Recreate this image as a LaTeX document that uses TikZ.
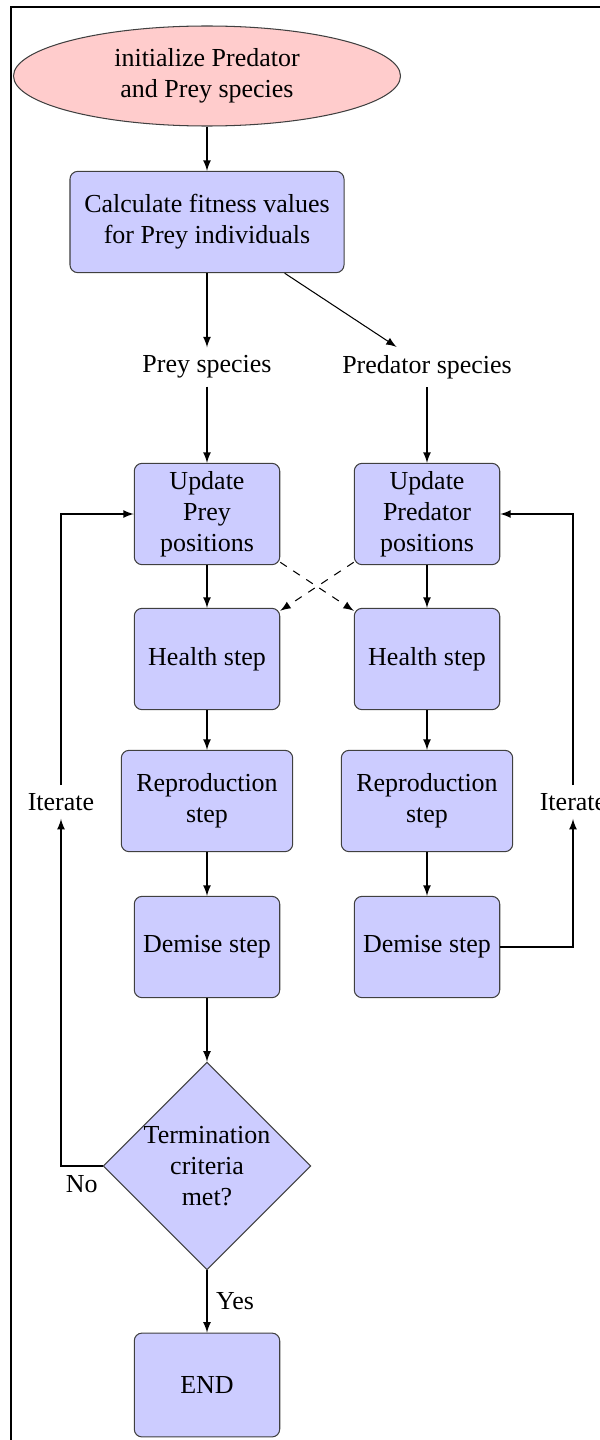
\documentclass[tikz,border=0pt]{standalone}
\usepackage{fontspec}
\setmainfont{Liberation Serif}
\usetikzlibrary{shapes.geometric}

\tikzset{
	blk/.style= {rectangle, rounded corners= 3pt, draw= black!75, fill= blue!20, minimum width= 56pt, minimum height= 39pt, align= center, inner sep= 2pt},
	wideblk/.style= {blk, minimum width= 66pt},
	startnode/.style= {ellipse, draw= black!75, fill= red!20, minimum width= 149pt, minimum height= 38.5pt, inner sep= 0pt, align= center},
	decide/.style= {diamond, aspect= 1, draw= black!75, fill= blue!20, minimum width= 80pt, minimum height= 80pt, inner sep= 0pt, align= center},
	lbl/.style= {inner sep= 3pt},
	arr/.style= {-latex, black},
}

\begin{document}
\begin{tikzpicture}[x= 0.385pt, y= -0.385pt]
\useasboundingbox (0, 0) rectangle (600, 1440);
% 枠
\draw[line width= 0.8pt] (11, 1440)-- (11, 7)-- (600, 7);
% 初期化
\node[startnode] (init) at (207, 76) {initialize Predator\\and Prey species};
\node[blk, minimum width= 105.5pt] (calc) at (207, 222) {Calculate fitness values\\for Prey individuals};
\node[lbl] (preyL) at (207, 367) {Prey species};
\node[lbl] (predL) at (427, 367) {Predator species};
% Prey 列
\node[blk] (updPrey) at (207, 514) {Update\\Prey\\positions};
\node[blk] (hPrey) at (207, 659) {Health step};
\node[wideblk] (rPrey) at (207, 801) {Reproduction\\step};
\node[blk] (dPrey) at (207, 947) {Demise step};
\node[decide] (dec) at (207, 1166) {Termination\\criteria\\met?};
\node[blk, minimum height= 40pt] (fin) at (207, 1385) {END};
% Predator 列
\node[blk] (updPred) at (427, 514) {Update\\Predator\\positions};
\node[blk] (hPred) at (427, 659) {Health step};
\node[wideblk] (rPred) at (427, 801) {Reproduction\\step};
\node[blk] (dPred) at (427, 947) {Demise step};
% ループ
\node[lbl] (iterL) at (61, 802) {Iterate};
\node[lbl] (iterR) at (573, 802) {Iterate};

% 矢印
\draw[arr] (init)-- (calc);
\draw[arr] (calc)-- (preyL);
\draw[arr] (calc)-- (predL);
\draw[arr] (preyL)-- (updPrey);
\draw[arr] (predL)-- (updPred);
\draw[arr] (updPrey)-- (hPrey);
\draw[arr] (hPrey)-- (rPrey);
\draw[arr] (rPrey)-- (dPrey);
\draw[arr] (dPrey)-- (dec);
\draw[arr] (dec)-- node[right] {Yes} (fin);
\draw[arr] (updPred)-- (hPred);
\draw[arr] (hPred)-- (rPred);
\draw[arr] (rPred)-- (dPred);
% 交差 (点線)
\draw[arr, dashed] (updPrey)-- (hPred);
\draw[arr, dashed] (updPred)-- (hPrey);
% 繰り返し
\draw[arr] (dec.west)-| node[pos= 0.25, below] {No} (iterL);
\draw[arr] (iterL)|- (updPrey);
\draw[arr] (dPred)-| (iterR);
\draw[arr] (iterR)|- (updPred);
\end{tikzpicture}
\end{document}
